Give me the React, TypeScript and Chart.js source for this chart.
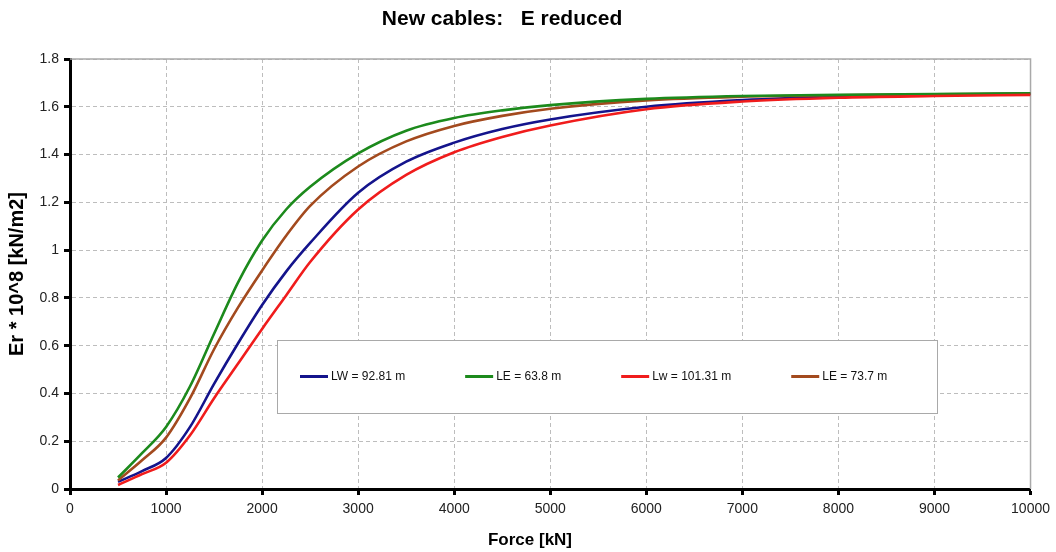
import React, { useEffect, useRef } from 'react';
import { Chart, registerables } from 'chart.js';

Chart.register(...registerables);

// ---- data ----
const forceKN = [500, 750, 1000, 1250, 1500, 1750, 2000, 2250, 2500, 3000, 3500, 4000, 4500, 5000, 6000, 7000, 8000, 9000, 10000];
const lw9281 = [0.03, 0.075, 0.13, 0.26, 0.44, 0.61, 0.77, 0.91, 1.03, 1.24, 1.37, 1.45, 1.507, 1.547, 1.6, 1.628, 1.643, 1.65, 1.654];
const le638 = [0.048, 0.15, 0.26, 0.43, 0.65, 0.865, 1.04, 1.17, 1.265, 1.405, 1.5, 1.553, 1.585, 1.607, 1.633, 1.645, 1.65, 1.653, 1.656];
const lw10131 = [0.017, 0.062, 0.11, 0.225, 0.38, 0.525, 0.67, 0.81, 0.95, 1.17, 1.315, 1.41, 1.474, 1.522, 1.59, 1.622, 1.638, 1.645, 1.65];
const le737 = [0.036, 0.12, 0.215, 0.38, 0.585, 0.76, 0.915, 1.06, 1.185, 1.35, 1.455, 1.52, 1.562, 1.592, 1.627, 1.642, 1.648, 1.652, 1.655];

const seriesLabels = ['LW = 92.81 m', 'LE = 63.8 m', 'Lw = 101.31 m', 'LE = 73.7 m'];
const seriesColors = ['#14148c', '#1c8a1c', '#f01c1c', '#a34a1e'];

const xTickValues = [0, 1000, 2000, 3000, 4000, 5000, 6000, 7000, 8000, 9000, 10000];
const xTickLabels = ['0', '1000', '2000', '3000', '4000', '5000', '6000', '7000', '8000', '9000', '10000'];
const yTickValues = [0, 0.2, 0.4, 0.6, 0.8, 1, 1.2, 1.4, 1.6, 1.8];
const yTickLabels = ['0', '0.2', '0.4', '0.6', '0.8', '1', '1.2', '1.4', '1.6', '1.8'];

const chartTitle = 'New cables:   E reduced';
const xAxisTitle = 'Force [kN]';
const yAxisTitle = 'Er * 10^8 [kN/m2]';

const FONT = '"Liberation Sans", Arial, Helvetica, sans-serif';

const toPoints = (ys: number[]) => ys.map((y, i) => ({ x: forceKN[i], y }));

const frameAndTitlePlugin = {
  id: 'frameAndTitle',
  beforeDatasetsDraw(chart: any) {
    const { ctx, chartArea: a } = chart;
    ctx.save();
    ctx.strokeStyle = '#a9a9a9';
    ctx.lineWidth = 1.5;
    ctx.beginPath();
    ctx.moveTo(a.left, a.top);
    ctx.lineTo(a.right, a.top);
    ctx.lineTo(a.right, a.bottom);
    ctx.stroke();
    ctx.restore();
  },
  afterDraw(chart: any) {
    const { ctx } = chart;
    ctx.save();
    ctx.fillStyle = '#000';
    ctx.textAlign = 'center';
    ctx.textBaseline = 'middle';
    ctx.font = `bold 21px ${FONT}`;
    ctx.fillText(chartTitle, 502, 19);
    ctx.font = `bold 17px ${FONT}`;
    ctx.fillText(xAxisTitle, 530, 540);
    ctx.restore();
  },
};

const legendOrder = [0, 1, 2, 3];

const boxLegendPlugin = {
  id: 'boxLegend',
  afterDatasetsDraw(chart: any) {
    const { ctx, chartArea: a } = chart;
    const left = a.left + 207;
    const top = a.top + 281;
    const w = 660;
    const h = 73;
    ctx.save();
    ctx.fillStyle = '#ffffff';
    ctx.fillRect(left, top, w, h);
    ctx.strokeStyle = '#a9a9a9';
    ctx.lineWidth = 1;
    ctx.strokeRect(left + 0.5, top + 0.5, w, h);
    ctx.font = `12px ${FONT}`;
    ctx.textBaseline = 'middle';
    ctx.textAlign = 'left';
    let x = left + 23;
    const cy = top + h / 2;
    legendOrder.forEach((di) => {
      const ds = chart.data.datasets[di];
      ctx.strokeStyle = ds.borderColor;
      ctx.lineWidth = 3;
      ctx.beginPath();
      ctx.moveTo(x, cy);
      ctx.lineTo(x + 28, cy);
      ctx.stroke();
      ctx.fillStyle = '#111';
      ctx.fillText(ds.label, x + 31, cy);
      x += 31 + ctx.measureText(ds.label).width + 60;
    });
    ctx.restore();
  },
};

export default function App() {
  const canvasRef = useRef<HTMLCanvasElement | null>(null);

  useEffect(() => {
    document.body.style.margin = '0';
    const canvas = canvasRef.current;
    if (!canvas) return;
    const seriesData = [lw9281, le638, lw10131, le737];
    const drawOrder = [3, 1, 0, 2];
    const gridCommon = {
      color: '#bdbdbd',
      lineWidth: 1,
      tickColor: '#000',
      tickLength: 6,
      tickWidth: 3,
      tickBorderDash: [],
    } as any;
    const chart = new Chart(canvas, {
      type: 'line',
      data: {
        datasets: seriesData.map((d, i) => ({
          label: seriesLabels[i],
          data: toPoints(d),
          borderColor: seriesColors[i],
          backgroundColor: seriesColors[i],
          borderWidth: 2.6,
          pointRadius: 0,
          fill: false,
          cubicInterpolationMode: 'monotone' as const,
          order: drawOrder[i],
        })),
      },
      options: {
        animation: false,
        responsive: false,
        maintainAspectRatio: false,
        layout: { padding: { top: 59, right: 24, left: 0, bottom: 0 } },
        plugins: {
          legend: { display: false },
          title: { display: false },
          tooltip: { enabled: false },
        },
        scales: {
          x: {
            type: 'linear',
            min: 0,
            max: 10000,
            afterBuildTicks: (scale: any) => {
              scale.ticks = xTickValues.map((v) => ({ value: v }));
            },
            afterFit: (scale: any) => {
              scale.height = 63;
            },
            ticks: {
              autoSkip: false,
              maxRotation: 0,
              color: '#222',
              font: { family: FONT, size: 14 },
              padding: 6,
              callback: (value: any) => {
                const i = xTickValues.indexOf(Number(value));
                return i >= 0 ? xTickLabels[i] : '';
              },
            },
            grid: gridCommon,
            border: { display: true, color: '#000', width: 3, dash: [4, 3] } as any,
            title: { display: false },
          },
          y: {
            type: 'linear',
            min: 0,
            max: 1.8,
            afterBuildTicks: (scale: any) => {
              scale.ticks = yTickValues.map((v) => ({ value: v }));
            },
            afterFit: (scale: any) => {
              scale.width = 70;
            },
            ticks: {
              autoSkip: false,
              color: '#222',
              font: { family: FONT, size: 14 },
              padding: 5,
              callback: (value: any) => {
                const i = yTickValues.findIndex((v) => Math.abs(v - Number(value)) < 1e-9);
                return i >= 0 ? yTickLabels[i] : '';
              },
            },
            grid: gridCommon,
            border: { display: true, color: '#000', width: 3, dash: [4, 3] } as any,
            title: {
              display: true,
              text: yAxisTitle,
              color: '#000',
              font: { family: FONT, size: 20, weight: 'bold' },
              padding: { top: 5, bottom: 0 },
            },
          },
        },
      },
      plugins: [frameAndTitlePlugin, boxLegendPlugin],
    });
    return () => chart.destroy();
  }, []);

  return (
    <div style={{ width: 1056, height: 552 }}>
      <canvas ref={canvasRef} width={1056} height={552} style={{ display: 'block', width: 1056, height: 552 }} />
    </div>
  );
}
